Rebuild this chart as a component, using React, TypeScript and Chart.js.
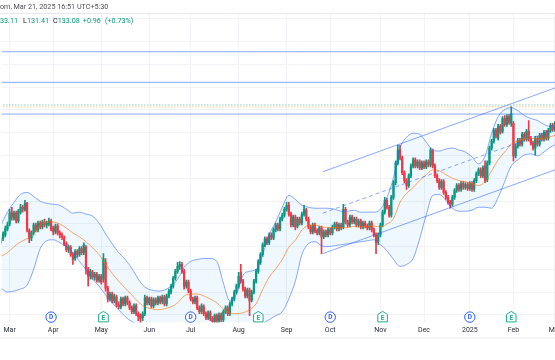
import React, { useEffect, useRef } from 'react';
import { Chart, registerables } from 'chart.js';

Chart.register(...registerables);

// ---------- data ----------
const FIRST_BAR = -4; // bar index of the first candle (index 0 = first session of Mar 2024)

const opens = [
  119.1, 119.5, 119.9, 120.5, 121.0, 122.2, 121.6, 122.1, 121.3, 122.2,
  122.7, 122.4, 123.1, 120.3, 119.6, 120.1, 120.9, 120.4, 121.1, 120.7,
  121.2, 120.9, 121.0, 121.3, 120.6, 120.2, 120.8, 120.1, 119.9, 119.6,
  119.0, 118.4, 118.6, 117.9, 117.5, 118.2, 117.9, 118.5, 118.1, 118.7,
  116.4, 115.7, 116.1, 115.6, 115.9, 115.3, 115.7, 115.4, 117.1, 114.5,
  113.4, 113.9, 113.2, 113.6, 112.8, 112.6, 113.4, 112.9, 113.5, 113.0,
  112.5, 112.1, 112.7, 111.9, 111.7, 111.5, 111.9, 113.5, 113.0, 113.4,
  112.7, 113.3, 113.0, 113.5, 113.1, 113.6, 112.9, 113.7, 114.1, 114.7,
  115.5, 116.2, 116.7, 116.9, 116.2, 114.7, 115.1, 114.2, 113.4, 113.1,
  113.5, 112.5, 112.1, 112.6, 111.9, 111.5, 112.0, 111.4, 111.1, 111.7,
  111.2, 111.8, 111.3, 112.1, 112.5, 111.9, 112.9, 113.4, 114.1, 114.7,
  116.1, 115.2, 114.4, 113.7, 114.3, 113.3, 114.1, 115.2, 116.2, 117.1,
  117.9, 118.9, 119.5, 119.1, 119.9, 119.6, 120.4, 120.9, 120.5, 121.5,
  121.9, 122.5, 122.9, 122.0, 120.9, 121.7, 120.8, 121.5, 121.1, 122.0,
  122.4, 121.5, 120.7, 120.2, 120.9, 120.3, 120.1, 120.6, 119.7, 120.2,
  119.9, 120.4, 120.1, 120.7, 121.0, 120.5, 120.9, 120.7, 122.5, 121.2,
  120.9, 121.7, 121.2, 121.5, 120.9, 121.3, 120.7, 121.1, 120.8, 120.6,
  121.1, 120.4, 119.9, 119.2, 119.9, 120.9, 122.2, 123.4, 122.7, 121.9,
  123.7, 125.2, 127.2, 128.5, 127.7, 126.2, 125.4, 124.9, 125.9, 126.9,
  127.5, 126.9, 127.3, 126.7, 127.2, 126.8, 127.3, 127.0, 128.4, 126.9,
  125.9, 125.4, 124.7, 125.3, 124.2, 123.7, 123.2, 123.0, 123.7, 124.4,
  124.9, 124.5, 125.1, 124.7, 125.0, 124.6, 125.1, 124.5, 125.4, 126.1,
  126.5, 125.9, 126.9, 125.5, 127.2, 128.7, 129.4, 130.5, 129.7, 130.9,
  130.4, 131.7, 131.1, 131.9, 131.2, 131.2, 127.9, 128.9, 129.5, 129.1,
  130.1, 129.6, 130.4, 129.7, 129.2, 128.7, 129.7, 129.1, 130.0, 129.6,
  130.3, 129.7, 130.5, 131.0, 130.6, 131.2, 131.5,
];

const highs = [
  119.7, 120.2, 120.8, 121.2, 122.5, 122.7, 122.3, 122.3, 122.5, 123.0,
  122.9, 123.4, 123.2, 120.5, 120.3, 121.1, 121.1, 121.3, 121.3, 121.4,
  121.5, 121.3, 121.6, 121.5, 120.8, 121.0, 121.0, 120.3, 120.1, 119.8,
  119.2, 118.9, 118.8, 118.1, 118.4, 118.4, 118.7, 118.7, 119.1, 118.8,
  116.6, 116.4, 116.3, 116.1, 116.1, 115.9, 115.9, 118.0, 117.5, 114.7,
  114.1, 114.1, 113.9, 113.8, 113.1, 113.6, 113.6, 113.7, 113.7, 113.2,
  112.7, 112.9, 112.9, 112.1, 111.9, 112.1, 113.8, 113.7, 113.6, 113.6,
  113.5, 113.5, 113.7, 113.7, 113.8, 113.8, 113.9, 114.4, 114.9, 115.7,
  116.4, 117.1, 117.2, 117.1, 116.4, 115.3, 115.3, 114.4, 113.6, 113.7,
  113.7, 112.7, 112.9, 112.8, 112.1, 112.2, 112.2, 111.6, 111.9, 111.9,
  112.0, 112.0, 112.3, 112.7, 112.7, 113.1, 113.6, 114.3, 114.9, 116.1,
  116.9, 115.4, 114.6, 114.5, 114.5, 114.3, 115.4, 116.4, 117.4, 118.1,
  119.1, 119.7, 119.7, 120.1, 120.1, 120.6, 121.1, 121.1, 121.7, 122.1,
  122.7, 123.2, 123.2, 122.2, 121.9, 121.9, 121.7, 121.7, 122.2, 122.9,
  122.6, 121.7, 120.9, 121.1, 121.1, 120.5, 120.8, 120.8, 120.4, 120.4,
  120.6, 120.6, 120.9, 121.2, 121.2, 121.1, 121.1, 123.0, 122.7, 121.4,
  121.9, 121.9, 121.7, 121.7, 121.5, 121.5, 121.3, 121.3, 121.0, 121.3,
  121.3, 120.6, 120.1, 120.1, 121.1, 122.4, 123.7, 123.6, 122.9, 123.9,
  125.4, 127.4, 129.0, 129.0, 127.9, 126.4, 125.6, 126.1, 127.1, 127.7,
  127.7, 127.5, 127.5, 127.4, 127.4, 127.5, 127.5, 128.7, 128.6, 127.1,
  126.1, 125.6, 125.5, 125.5, 124.4, 123.9, 123.4, 123.9, 124.6, 125.1,
  125.1, 125.3, 125.3, 125.2, 125.2, 125.3, 125.3, 125.6, 126.3, 126.7,
  126.7, 126.9, 127.4, 127.4, 128.9, 129.6, 130.7, 130.7, 131.1, 131.1,
  131.9, 132.0, 132.1, 132.1, 132.9, 131.4, 129.1, 129.7, 129.7, 130.3,
  130.3, 130.6, 131.5, 129.9, 129.4, 129.9, 129.9, 130.2, 130.2, 130.5,
  130.5, 130.7, 131.2, 131.2, 131.4, 131.7, 131.7,
];

const lows = [
  118.9, 119.3, 119.7, 120.3, 120.8, 121.4, 121.4, 121.1, 121.1, 122.0,
  122.2, 122.3, 120.2, 119.1, 119.3, 119.9, 120.2, 120.2, 120.5, 120.5,
  120.7, 120.6, 120.8, 120.3, 119.9, 120.0, 119.9, 119.6, 119.4, 118.8,
  118.2, 118.1, 117.7, 116.9, 117.3, 117.6, 117.7, 117.9, 117.9, 115.9,
  114.7, 115.4, 115.4, 115.3, 115.1, 115.1, 114.9, 115.1, 114.2, 113.1,
  113.2, 113.0, 113.0, 112.6, 112.4, 112.4, 112.7, 112.7, 112.8, 112.3,
  111.9, 111.9, 111.7, 111.2, 111.0, 111.2, 111.7, 112.8, 112.8, 112.5,
  112.5, 112.8, 112.8, 112.9, 112.9, 112.7, 112.7, 113.5, 113.9, 114.5,
  115.3, 116.0, 116.4, 116.0, 114.4, 114.5, 114.0, 113.2, 112.9, 112.9,
  112.3, 111.9, 111.9, 111.7, 111.3, 111.3, 111.2, 110.5, 110.9, 111.0,
  111.0, 111.1, 111.1, 111.9, 111.7, 111.7, 112.7, 113.2, 113.9, 114.5,
  115.0, 114.2, 113.5, 113.5, 111.7, 113.1, 113.9, 115.0, 116.0, 116.9,
  117.7, 118.7, 118.9, 118.9, 119.4, 119.4, 120.2, 120.3, 120.3, 121.3,
  121.7, 122.3, 121.8, 120.7, 120.7, 120.4, 120.6, 120.9, 120.9, 121.8,
  121.3, 120.5, 120.0, 120.0, 120.1, 119.9, 119.9, 118.0, 119.5, 119.7,
  119.7, 119.9, 119.9, 120.5, 120.3, 120.3, 120.4, 120.5, 121.0, 120.7,
  120.7, 121.0, 121.0, 120.7, 120.7, 120.5, 120.5, 120.6, 120.4, 120.4,
  120.2, 119.7, 118.0, 118.9, 119.7, 120.7, 122.0, 122.5, 121.7, 121.7,
  123.5, 125.0, 127.0, 127.5, 126.0, 125.2, 124.5, 124.7, 125.7, 126.7,
  126.7, 126.7, 126.5, 126.5, 126.6, 126.6, 126.8, 126.8, 126.7, 125.7,
  125.2, 124.5, 124.5, 124.0, 123.5, 123.0, 122.6, 122.8, 123.5, 124.2,
  124.3, 124.3, 124.5, 124.5, 124.4, 124.4, 124.3, 124.3, 125.2, 125.9,
  125.7, 125.7, 125.2, 125.3, 127.0, 128.5, 129.2, 129.7, 129.5, 130.1,
  130.2, 130.9, 130.9, 131.1, 130.9, 127.4, 127.7, 128.7, 128.9, 128.9,
  129.4, 129.4, 129.4, 129.0, 128.5, 128.0, 128.9, 128.9, 129.4, 129.4,
  129.5, 129.5, 130.3, 130.4, 130.4, 131.0, 130.9,
];

const closes = [
  119.5, 120.0, 120.5, 120.9, 122.1, 121.7, 122.1, 121.3, 122.3, 122.7,
  122.5, 123.1, 120.4, 119.5, 120.1, 120.9, 120.4, 121.1, 120.7, 121.2,
  120.9, 121.1, 121.3, 120.5, 120.2, 120.8, 120.1, 119.9, 119.7, 119.0,
  118.4, 118.7, 117.9, 117.4, 118.2, 117.9, 118.5, 118.1, 118.9, 116.5,
  115.7, 116.2, 115.6, 115.9, 115.3, 115.7, 115.1, 117.5, 114.5, 113.4,
  113.9, 113.2, 113.7, 112.8, 112.6, 113.4, 112.9, 113.5, 113.0, 112.5,
  112.1, 112.7, 111.9, 111.6, 111.4, 111.9, 113.5, 113.0, 113.4, 112.7,
  113.3, 113.0, 113.5, 113.1, 113.6, 112.9, 113.7, 114.2, 114.7, 115.5,
  116.2, 116.7, 116.9, 116.2, 114.7, 115.1, 114.2, 113.4, 113.1, 113.5,
  112.5, 112.1, 112.7, 111.9, 111.5, 112.0, 111.4, 111.1, 111.7, 111.2,
  111.8, 111.3, 112.1, 112.5, 111.9, 112.9, 113.4, 114.1, 114.7, 115.7,
  115.2, 114.4, 113.7, 114.3, 113.2, 114.1, 115.2, 116.2, 117.2, 117.9,
  118.9, 119.5, 119.1, 119.9, 119.6, 120.4, 120.9, 120.5, 121.5, 121.9,
  122.5, 122.9, 122.0, 120.9, 121.7, 120.7, 121.5, 121.1, 122.0, 122.5,
  121.5, 120.7, 120.2, 120.9, 120.3, 120.1, 120.6, 119.7, 120.2, 119.9,
  120.4, 120.1, 120.7, 121.0, 120.5, 120.9, 120.6, 122.5, 121.2, 120.9,
  121.7, 121.2, 121.5, 120.9, 121.3, 120.7, 121.1, 120.8, 120.6, 121.1,
  120.4, 119.9, 119.1, 119.9, 120.9, 122.2, 123.4, 122.7, 121.9, 123.7,
  125.2, 127.2, 128.5, 127.7, 126.2, 125.4, 124.9, 125.9, 126.9, 127.5,
  126.9, 127.3, 126.7, 127.2, 126.8, 127.3, 127.0, 128.5, 126.9, 125.9,
  125.4, 124.7, 125.3, 124.2, 123.7, 123.2, 122.9, 123.7, 124.4, 124.9,
  124.5, 125.1, 124.7, 125.0, 124.6, 125.1, 124.5, 125.4, 126.1, 126.5,
  125.9, 126.7, 125.4, 127.2, 128.7, 129.4, 130.5, 129.9, 130.9, 130.3,
  131.7, 131.1, 131.9, 131.3, 132.2, 127.9, 128.9, 129.5, 129.1, 130.1,
  129.6, 130.4, 129.7, 129.2, 128.7, 129.7, 129.1, 130.0, 129.6, 130.3,
  129.7, 130.5, 131.0, 130.6, 131.2, 131.5, 131.1,
];

// month axis
const monthIdx = [0, 20, 42, 64, 83, 105, 127, 147, 170, 190, 211, 231, 250];
const monthLabels = ['Mar', 'Apr', 'May', 'Jun', 'Jul', 'Aug', 'Sep', 'Oct', 'Nov', 'Dec', '2025', 'Feb', 'Mar'];

// Bollinger Bands (20, 2)
const bandIdx = [
  -4, -1, 2, 5, 8, 11, 14, 17, 20, 23, 26, 29, 32, 35, 38, 41, 44, 47, 50, 53,
  56, 59, 62, 65, 68, 71, 74, 77, 80, 83, 86, 89, 92, 95, 98, 101, 104, 107, 110, 113,
  116, 119, 122, 125, 128, 131, 134, 137, 140, 143, 146, 149, 152, 155, 158, 161, 164, 167, 170, 173,
  176, 179, 182, 185, 188, 191, 194, 197, 200, 203, 206, 209, 212, 215, 218, 221, 224, 227, 230, 233,
  236, 239, 242, 245, 248, 251, 254,
];
const bbUpper = [
  120.9, 122.2, 123.2, 124.0, 124.2, 123.8, 123.3, 123.1, 123.0, 122.9, 122.5, 122.1, 122.2, 122.0, 121.8, 121.1, 120.0, 119.0, 118.1, 117.4,
  116.5, 115.4, 114.6, 114.3, 114.2, 114.3, 114.7, 115.4, 116.6, 117.2, 117.4, 117.5, 117.5, 117.2, 115.0, 113.2, 113.9, 115.8, 116.2, 116.4,
  117.9, 119.9, 121.2, 122.7, 123.9, 123.5, 122.9, 122.7, 122.6, 122.6, 122.6, 122.5, 122.3, 122.3, 122.4, 122.2, 122.2, 122.2, 122.5, 123.7,
  125.7, 128.7, 129.8, 130.2, 130.1, 129.3, 128.5, 128.4, 128.6, 128.7, 128.5, 128.3, 127.8, 127.1, 127.9, 130.2, 131.9, 132.6, 132.8, 132.5,
  132.0, 131.7, 131.5, 131.1, 130.9, 131.0, 131.1,
];
const bbBasis = [
  117.7, 118.1, 118.7, 119.2, 119.5, 120.1, 120.9, 121.2, 121.2, 121.0, 120.6, 120.1, 119.7, 119.2, 118.6, 117.9, 116.9, 116.0, 115.2, 114.5,
  113.8, 113.1, 112.6, 112.4, 112.3, 112.4, 112.6, 113.0, 113.7, 113.9, 113.9, 113.7, 113.4, 113.0, 112.4, 112.0, 111.9, 112.0, 112.3, 112.9,
  114.35, 115.6, 116.45, 117.4, 118.65, 119.35, 120.4, 120.85, 120.9, 120.7, 120.65, 120.65, 120.6, 120.65, 120.75, 120.7, 120.75, 120.8, 120.7, 121.0,
  121.55, 123.2, 124.1, 124.7, 125.4, 126.0, 126.5, 126.4, 126.0, 125.65, 125.4, 125.3, 125.1, 124.9, 125.3, 126.4, 127.5, 128.3, 129.1, 129.4,
  129.6, 129.7, 129.6, 129.7, 129.85, 130.05, 130.15,
];
const bbLower = [
  114.5, 114.1, 114.2, 114.4, 114.8, 116.4, 118.5, 119.3, 119.4, 119.1, 118.7, 118.1, 117.2, 116.4, 115.4, 114.7, 113.8, 113.0, 112.3, 111.6,
  111.1, 110.8, 110.6, 110.5, 110.4, 110.5, 110.5, 110.6, 110.8, 110.6, 110.4, 109.9, 109.3, 108.8, 109.8, 110.8, 109.9, 108.2, 108.4, 109.4,
  110.8, 111.3, 111.7, 112.1, 113.4, 115.2, 117.9, 119.0, 119.2, 118.8, 118.7, 118.8, 118.9, 119.0, 119.1, 119.2, 119.3, 119.4, 118.9, 118.3,
  117.4, 116.7, 116.9, 117.5, 119.5, 121.9, 123.9, 124.0, 123.4, 122.6, 122.3, 122.3, 122.4, 122.7, 122.7, 122.6, 123.7, 125.3, 126.9, 127.5,
  128.0, 128.1, 127.9, 128.3, 128.8, 129.1, 129.2,
];

// parallel channel drawing (start, end)
const channelIdx = [143.6, 262];
const channelUpper = [126.3, 135.75];
const channelMid = [122.1, 131.55];
const channelLower = [118.0, 127.45];

// horizontal drawings and price lines
const hLevels = [138.47, 135.37, 132.15];
const lastClose = 133.08;
const prevLevel = 132.9;

// dividend / earnings events
const eventIdx = [19, 43, 83, 114, 147, 171, 211, 230];
const eventType = ['D', 'E', 'D', 'E', 'D', 'E', 'D', 'E'];

// price grid levels
const gridLevels = [141.81, 139.5, 137.19, 134.88, 132.57, 130.26, 127.95, 125.64, 123.33, 121.02, 118.71, 116.4, 114.09, 111.78];

// ---------- view ----------
const X_MIN = -3.66;
const X_MAX = 270.69;
const Y_MIN = 111.0;
const Y_MAX = 142.4;

const UP = '#089981';
const DOWN = '#f23645';
const BLUE = 'rgba(41,98,255,0.55)';
const FONT = 'Roboto, "DejaVu Sans", sans-serif';

const pairs = (xs: number[], ys: number[]) => xs.map((x, k) => ({ x, y: ys[k] }));
const flat = (v: number) => [{ x: X_MIN - 20, y: v }, { x: X_MAX + 20, y: v }];

const decorPlugin = {
  id: 'decor',
  afterDatasetsDraw(chart: any) {
    const { ctx, chartArea, scales } = chart;
    const cy = chartArea.bottom - 5.5;
    ctx.save();
    eventIdx.forEach((v, k) => {
      const cx = scales.x.getPixelForValue(v);
      const isD = eventType[k] === 'D';
      const col = isD ? '#2962ff' : '#22ab94';
      ctx.beginPath();
      if (isD) {
        ctx.arc(cx, cy, 5.2, 0, Math.PI * 2);
      } else {
        ctx.moveTo(cx, cy - 5.7);
        ctx.lineTo(cx + 4.8, cy - 2.7);
        ctx.lineTo(cx + 4.8, cy + 4.8);
        ctx.lineTo(cx - 4.8, cy + 4.8);
        ctx.lineTo(cx - 4.8, cy - 2.7);
        ctx.closePath();
      }
      ctx.fillStyle = '#ffffff';
      ctx.fill();
      ctx.lineWidth = 1;
      ctx.strokeStyle = col;
      ctx.stroke();
      ctx.fillStyle = col;
      ctx.font = `bold 6.5px ${FONT}`;
      ctx.textAlign = 'center';
      ctx.textBaseline = 'middle';
      ctx.fillText(eventType[k], cx, cy + (isD ? 0.3 : 1));
    });
    ctx.restore();
  },
  afterDraw(chart: any) {
    const { ctx, chartArea, width } = chart;
    ctx.save();
    ctx.fillStyle = '#e6e8ee';
    ctx.fillRect(0, chartArea.top, width, 1);
    ctx.fillStyle = '#eef0f4';
    ctx.fillRect(0, chartArea.bottom + 15, width, 1);
    ctx.restore();
  },
};

export default function App() {
  const ref = useRef<HTMLCanvasElement | null>(null);

  useEffect(() => {
    document.body.style.margin = '0';
    const canvas = ref.current;
    if (!canvas) return;
    const barX = opens.map((_, k) => FIRST_BAR + k);
    const colors = opens.map((o, k) => (closes[k] >= o ? UP : DOWN));
    const bodies = barX.map((x, k) => ({ x, y: [opens[k], closes[k]] }));
    const wicks = barX.map((x, k) => ({ x, y: [lows[k], highs[k]] }));

    const chart = new Chart(canvas, {
      type: 'bar',
      data: {
        datasets: [
          {
            type: 'line', label: 'bbFillUpper', data: pairs(bandIdx, bbUpper),
            borderWidth: 0, borderColor: 'rgba(0,0,0,0)', pointRadius: 0,
            cubicInterpolationMode: 'monotone', fill: false, order: 30,
          },
          {
            type: 'line', label: 'bbFillLower', data: pairs(bandIdx, bbLower),
            borderWidth: 0, borderColor: 'rgba(0,0,0,0)', pointRadius: 0,
            cubicInterpolationMode: 'monotone', fill: '-1',
            backgroundColor: 'rgba(33,150,243,0.07)', order: 29,
          },
          {
            type: 'bar', label: 'wicks', data: wicks, backgroundColor: colors,
            barThickness: 1, grouped: false, borderWidth: 0, order: 12,
          },
          {
            type: 'bar', label: 'bodies', data: bodies, backgroundColor: colors,
            barThickness: 1.6, grouped: false, borderWidth: 0, minBarLength: 1, order: 11,
          },
          {
            type: 'line', label: 'bbUpper', data: pairs(bandIdx, bbUpper),
            borderColor: BLUE, borderWidth: 1, pointRadius: 0,
            cubicInterpolationMode: 'monotone', fill: false, order: 8,
          },
          {
            type: 'line', label: 'bbLower', data: pairs(bandIdx, bbLower),
            borderColor: BLUE, borderWidth: 1, pointRadius: 0,
            cubicInterpolationMode: 'monotone', fill: false, order: 8,
          },
          {
            type: 'line', label: 'bbBasis', data: pairs(bandIdx, bbBasis),
            borderColor: 'rgba(255,109,0,0.6)', borderWidth: 1, pointRadius: 0,
            cubicInterpolationMode: 'monotone', fill: false, order: 7,
          },
          {
            type: 'line', label: 'chUpper', data: pairs(channelIdx, channelUpper),
            borderColor: BLUE, borderWidth: 1, pointRadius: 0, fill: false, order: 3,
          },
          {
            type: 'line', label: 'chMid', data: pairs(channelIdx, channelMid),
            borderColor: BLUE, borderWidth: 1, borderDash: [4, 3], pointRadius: 0, fill: false, order: 3,
          },
          {
            type: 'line', label: 'chLower', data: pairs(channelIdx, channelLower),
            borderColor: BLUE, borderWidth: 1, pointRadius: 0, fill: false, order: 3,
          },
          ...hLevels.map((v) => ({
            type: 'line', label: 'h' + v, data: flat(v),
            borderColor: BLUE, borderWidth: 1, pointRadius: 0, fill: false, order: 2,
          })),
          {
            type: 'line', label: 'last', data: flat(lastClose),
            borderColor: 'rgba(8,153,129,0.3)', borderWidth: 1.5, borderDash: [1.5, 1.5],
            pointRadius: 0, fill: false, order: 4,
          },
          {
            type: 'line', label: 'prev', data: flat(prevLevel),
            borderColor: 'rgba(255,152,0,0.3)', borderWidth: 1.5, borderDash: [1.5, 1.5],
            pointRadius: 0, fill: false, order: 4,
          },
        ] as any,
      },
      options: {
        responsive: false,
        animation: false,
        devicePixelRatio: 1,
        layout: { padding: { top: 13, bottom: 22, left: 0, right: 0 } },
        plugins: { legend: { display: false }, tooltip: { enabled: false } },
        events: [],
        scales: {
          x: {
            type: 'linear',
            min: X_MIN,
            max: X_MAX,
            offset: false,
            afterBuildTicks: (scale: any) => {
              scale.ticks = monthIdx.map((v) => ({ value: v }));
            },
            ticks: {
              autoSkip: false,
              maxRotation: 0,
              padding: 3.5,
              color: '#2a2e39',
              font: { family: FONT, size: 7 },
              callback: (value: any) => {
                const k = monthIdx.indexOf(Number(value));
                return k >= 0 ? monthLabels[k] : '';
              },
            },
            grid: { color: '#f1f3f6', drawTicks: false, offset: false },
            border: { display: false },
          },
          y: {
            type: 'linear',
            position: 'right',
            min: Y_MIN,
            max: Y_MAX,
            afterBuildTicks: (scale: any) => {
              scale.ticks = gridLevels.map((v) => ({ value: v }));
            },
            ticks: { display: false },
            grid: { color: '#f1f3f6', drawTicks: false },
            border: { display: false },
          },
        },
      } as any,
      plugins: [decorPlugin],
    });
    return () => chart.destroy();
  }, []);

  const txt: React.CSSProperties = {
    position: 'absolute',
    left: 0,
    whiteSpace: 'nowrap',
    fontFamily: FONT,
    fontSize: 7.2,
    lineHeight: '8px',
  };

  return (
    <div style={{ position: 'relative', width: 555, height: 360, overflow: 'hidden', background: '#ffffff' }}>
      <canvas ref={ref} width={600} height={360} style={{ display: 'block', width: 600, height: 360 }} />
      <div style={{ ...txt, top: 2.5, color: '#4a4e59' }}>om, Mar 21, 2025 16:51 UTC+5:30</div>
      <div style={{ ...txt, top: 17 }}>
        <span style={{ marginRight: 5, color: UP }}>33.11</span>
        <span style={{ color: '#131722' }}>L</span>
        <span style={{ marginRight: 4, color: UP }}>131.41</span>
        <span style={{ color: '#131722' }}>C</span>
        <span style={{ marginRight: 3, color: UP }}>133.08</span>
        <span style={{ marginRight: 4, color: UP }}>+0.96</span>
        <span style={{ color: UP }}>(+0.73%)</span>
      </div>
    </div>
  );
}
